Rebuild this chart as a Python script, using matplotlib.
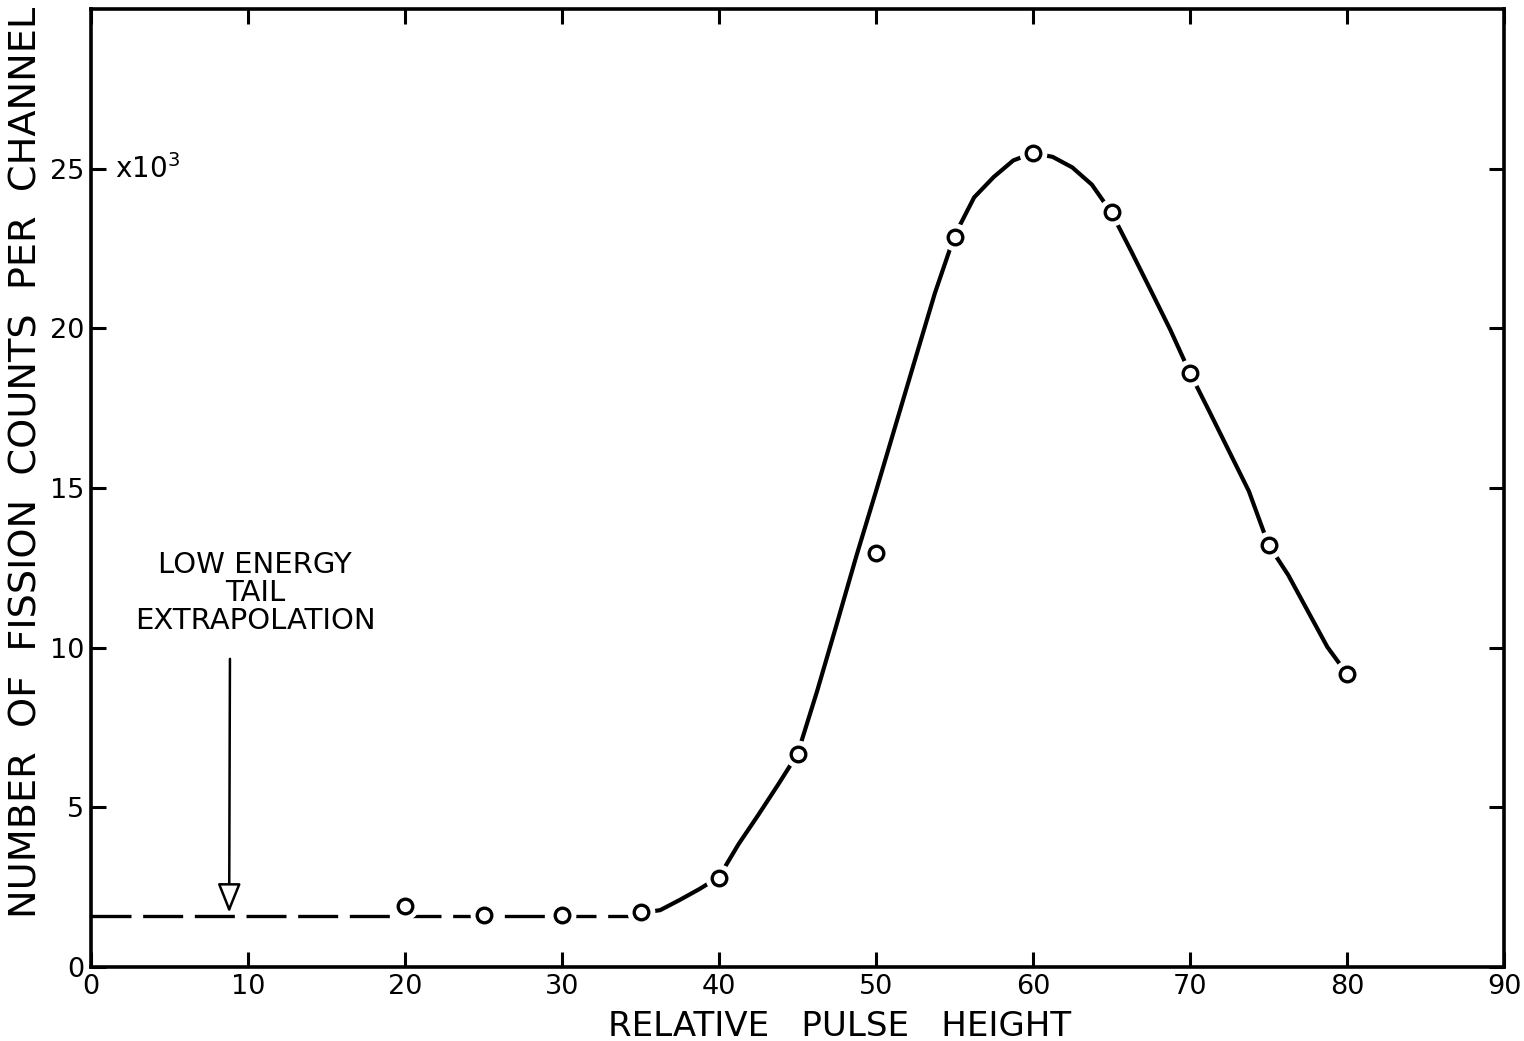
import matplotlib
matplotlib.use("Agg")
import matplotlib.pyplot as plt

# Dane (x10^3 zliczen na kanal)
punktyX = [20, 25, 30, 35, 40, 45, 50, 55, 60, 65, 70, 75, 80]
punktyY = [1.91, 1.63, 1.63, 1.72, 2.79, 6.67, 12.97, 22.86, 25.49, 23.65, 18.6, 13.22, 9.18]

# Krzywa ciagla (odczyt z rysunku co 1.25)
krzywaX = [35, 36.25, 37.5, 38.75, 40, 41.25, 42.5, 43.75, 45, 46.25, 47.5, 48.75, 50,
           51.25, 52.5, 53.75, 55, 56.25, 57.5, 58.75, 60, 61.25, 62.5, 63.75, 65,
           66.25, 67.5, 68.75, 70, 71.25, 72.5, 73.75, 75, 76.25, 77.5, 78.75, 80]
krzywaY = [1.69, 1.78, 2.1, 2.44, 2.82, 3.85, 4.76, 5.7, 6.67, 8.64, 10.74, 12.87, 14.9,
           16.97, 19.04, 21.1, 22.9, 24.1, 24.74, 25.26, 25.49, 25.37, 25.04, 24.5, 23.62,
           22.42, 21.19, 19.95, 18.6, 17.38, 16.14, 14.9, 13.22, 12.28, 11.15, 10.02, 9.18]

# Ekstrapolacja ogona (linia przerywana)
ogonX = [0, 35]
ogonY = [1.59, 1.59]

xTicks = [0, 10, 20, 30, 40, 50, 60, 70, 80, 90]
yTicks = [0, 5, 10, 15, 20, 25]

plt.rcParams['font.family'] = ['DejaVu Sans']

fig = plt.figure(figsize=(15.24, 10.41), dpi=100)
ax = fig.add_axes([91 / 1524, 1 - 967 / 1041, (1504 - 91) / 1524, (967 - 9) / 1041])

ax.plot(ogonX, ogonY, color='black', lw=2.4, dashes=(12, 3.5), solid_capstyle='butt', zorder=2)
ax.plot(krzywaX, krzywaY, color='black', lw=3.0, solid_joinstyle='round', zorder=2)

# biala obwodka - przerwy w linii przy punktach
ax.plot(punktyX, punktyY, linestyle='none', marker='o', ms=20, mfc='white', mec='none', zorder=3)
ax.plot(punktyX, punktyY, linestyle='none', marker='o', ms=10.5, mfc='white', mec='black', mew=2.4, zorder=4)

ax.set_xlim(0, 90)
ax.set_ylim(0, 30)
ax.set_xticks(xTicks)
ax.set_yticks(yTicks)
ax.tick_params(direction='in', length=11, width=2.2, top=True, right=True, labelsize=19.5)
ax.tick_params(axis='x', pad=5)
ax.tick_params(axis='y', pad=5)
for s in ax.spines.values():
    s.set_linewidth(2.6)

ax.annotate('', xy=(8.8, 1.7), xytext=(8.85, 9.65),
            arrowprops=dict(arrowstyle='-|>,head_length=1.0,head_width=0.4', fc='white', ec='black',
                            lw=1.8, mutation_scale=18, shrinkA=0, shrinkB=0))
ax.text(10.45, 11.7, 'LOW ENERGY\nTAIL\nEXTRAPOLATION', ha='center', va='center', fontsize=21,
        linespacing=1.0)
ax.text(1.5, 25, 'x10$^3$', ha='left', va='center', fontsize=20)

fig.text(27 / 1524, 1 - 462 / 1041, 'NUMBER  OF  FISSION  COUNTS  PER  CHANNEL', rotation=90,
         ha='center', va='center', fontsize=27.5)
fig.text(840 / 1524, 1 - 1026 / 1041, 'RELATIVE   PULSE   HEIGHT', ha='center', va='center', fontsize=24.5)

fig.savefig('out.png', dpi=100)
